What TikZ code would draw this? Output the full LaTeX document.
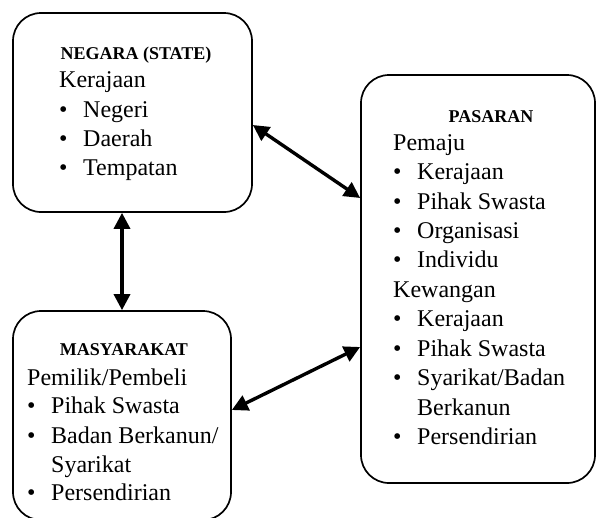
\documentclass[tikz,border=0pt]{standalone}
\usepackage{fontspec}
\setmainfont{Liberation Serif}
\usetikzlibrary{arrows.meta}
\newcommand\itm[1]{\makebox[24pt][l]{\char"2022}#1}
\tikzset{
  box/.style={draw, line width=1.7pt, rounded corners=28pt, inner sep=0pt},
  ttl/.style={anchor=base, inner sep=0pt, font=\fontsize{18}{20}\selectfont\bfseries},
  body/.style={anchor=base west, inner sep=0pt, font=\fontsize{24}{29}\selectfont},
  arr/.style={line width=3.4pt, {Triangle[length=16pt,width=16pt]}-{Triangle[length=16pt,width=16pt]}}
}
\begin{document}
\begin{tikzpicture}[x=1pt,y=-1pt]
\useasboundingbox (0,0) rectangle (597,517);
% boxes
\node[box, minimum width=239pt, minimum height=199pt] (negara) at (132.5,112.5) {};
\node[box, minimum width=218pt, minimum height=209pt] (masy) at (122,415.5) {};
\node[box, minimum width=234pt, minimum height=408pt] (pasar) at (478,279) {};
% NEGARA text
\node[ttl] (t1) at (136,59) {NEGARA (STATE)};
\node[body] (n1) at (59,87) {Kerajaan};
\node[body] (n2) at (59,117) {\itm{Negeri}};
\node[body] (n3) at (59,146) {\itm{Daerah}};
\node[body] (n4) at (59,175) {\itm{Tempatan}};
% MASYARAKAT text
\node[ttl] (t2) at (124,355) {MASYARAKAT};
\node[body] (m1) at (27,385) {Pemilik/Pembeli};
\node[body] (m2) at (27,413.5) {\itm{Pihak Swasta}};
\node[body] (m3) at (27,443) {\itm{Badan Berkanun/}};
\node[body] (m4) at (51,472) {Syarikat};
\node[body] (m5) at (27,500) {\itm{Persendirian}};
% PASARAN text
\node[ttl] (t3) at (491,122) {PASARAN};
\node[body] (p1) at (393,150) {Pemaju};
\node[body] (p2) at (393,179.5) {\itm{Kerajaan}};
\node[body] (p3) at (393,209) {\itm{Pihak Swasta}};
\node[body] (p4) at (393,238) {\itm{Organisasi}};
\node[body] (p5) at (393,267.5) {\itm{Individu}};
\node[body] (p6) at (393,297) {Kewangan};
\node[body] (p7) at (393,326.5) {\itm{Kerajaan}};
\node[body] (p8) at (393,356) {\itm{Pihak Swasta}};
\node[body] (p9) at (393,385) {\itm{Syarikat/Badan}};
\node[body] (p10) at (417,415) {Berkanun};
\node[body] (p11) at (393,444) {\itm{Persendirian}};
% connectors
\draw[arr] ([xshift=-10.5pt]negara.south) -- (masy.north);
\draw[arr] ([yshift=-12.5pt]negara.east) -- ([yshift=81pt]pasar.west);
\draw[arr] ([yshift=5.5pt]masy.east) -- ([yshift=-68pt]pasar.west);
\end{tikzpicture}
\end{document}
